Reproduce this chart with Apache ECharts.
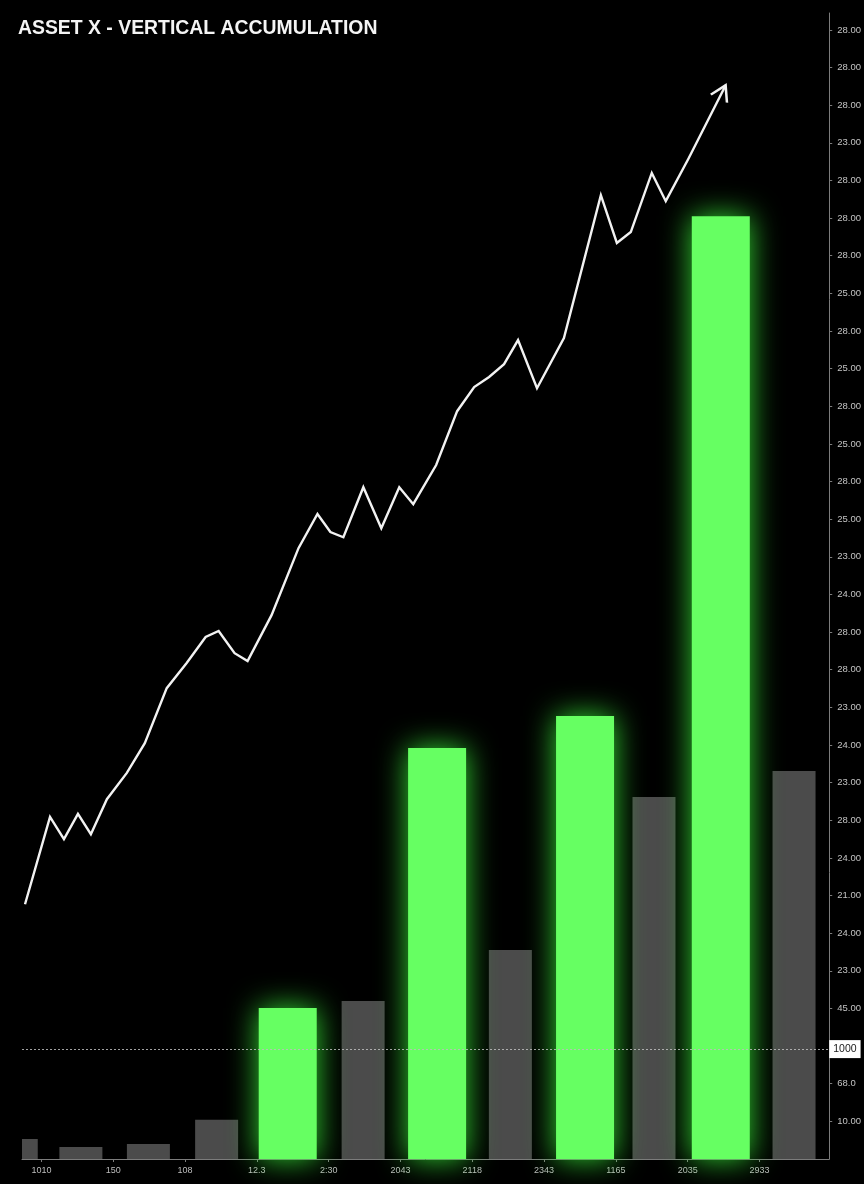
<!DOCTYPE html>
<html>
<head>
<meta charset="utf-8">
<script src="https://cdn.jsdelivr.net/npm/echarts@6/dist/echarts.min.js"></script>
<style>
html,body{margin:0;padding:0;background:#000;overflow:hidden;}
#chart{width:864px;height:1184px;}
</style>
</head>
<body>
<div id="chart"></div>
<script>
// ---- data ----
const titleText = 'ASSET X - VERTICAL ACCUMULATION';

// x tick labels at slot boundaries 1..11
const xTickValues = [1, 2, 3, 4, 5, 6, 7, 8, 9, 10, 11];
const xTickLabels = ['1010', '150', '108', '12.3', '2:30', '2043', '2118', '2343', '1165', '2035', '2933'];

// right axis tick labels, value 1 (bottom) .. 30 (top); value 3 is the marked level
const yTickValues = [1,2,3,4,5,6,7,8,9,10,11,12,13,14,15,16,17,18,19,20,21,22,23,24,25,26,27,28,29,30];
const yTickLabels = ['10.00', '68.0', '', '45.00', '23.00', '24.00', '21.00', '24.00', '28.00', '23.00',
                     '24.00', '23.00', '28.00', '28.00', '24.00', '23.00', '25.00', '28.00', '25.00', '28.00',
                     '25.00', '28.00', '25.00', '28.00', '28.00', '28.00', '23.00', '28.00', '28.00', '28.00'];

// gray volume bars
const grayX = [0.65, 1.55, 2.49, 3.44, 5.48, 7.53, 9.53, 11.48];
const grayY = [0.53, 0.32, 0.40, 1.04, 4.20, 5.55, 9.62, 10.31];

// green accumulation bars
const greenX = [4.43, 6.51, 8.57, 10.46];
const greenY = [4.01, 10.92, 11.77, 25.05];

// price line
const lineX = [0.772, 1.120, 1.314, 1.509, 1.689, 1.912, 2.190, 2.440, 2.745, 3.023,
               3.287, 3.468, 3.690, 3.871, 4.205, 4.580, 4.844, 5.024, 5.205, 5.483,
               5.733, 5.983, 6.178, 6.497, 6.789, 7.026, 7.234, 7.442, 7.637, 7.901,
               8.276, 8.790, 9.013, 9.207, 9.499, 9.694, 10.013, 10.528];
const lineY = [6.77, 9.09, 8.50, 9.17, 8.63, 9.56, 10.26, 11.05, 12.51, 13.18,
               13.87, 14.03, 13.44, 13.23, 14.45, 16.23, 17.14, 16.66, 16.52, 17.85,
               16.76, 17.85, 17.40, 18.44, 19.87, 20.51, 20.78, 21.12, 21.76, 20.48,
               21.81, 25.61, 24.34, 24.63, 26.20, 25.45, 26.59, 28.53];

// marked level
const markLevel = 2.92;
const markLabel = '1000';

// ---- chart ----
const chart = echarts.init(document.getElementById('chart'), null, {renderer: 'canvas', width: 864, height: 1184});

const labelFont = "'Liberation Sans', Arial, sans-serif";

const lineData = lineX.map((x, i) => {
  if (i === lineX.length - 1) {
    return {
      value: [x, lineY[i]],
      symbol: 'path://M0,15 L9,0 L18,15',
      symbolSize: [18, 15],
      symbolRotate: -26.6,
      symbolOffset: [-3.4, 6.7],
      itemStyle: {color: 'rgba(0,0,0,0)', borderColor: '#f2f2f2', borderWidth: 2.4}
    };
  }
  return {value: [x, lineY[i]], symbol: 'none'};
});

const GRAY_W = 43;

const option = {
  backgroundColor: '#000',
  animation: false,
  title: {
    text: titleText,
    left: 18,
    top: 19,
    padding: 0,
    textStyle: {color: '#f4f4f4', fontSize: 19.4, fontWeight: 'bold', fontFamily: "'Liberation Sans', Arial, sans-serif"}
  },
  grid: {left: 22, right: 33, top: 13, bottom: 25, containLabel: false},
  xAxis: [
    {
      type: 'value', min: 0.73, max: 11.97,
      axisLine: {show: true, lineStyle: {color: '#7c7c7c', width: 1}},
      axisTick: {show: true, length: 3, customValues: xTickValues, lineStyle: {color: '#7c7c7c'}},
      axisLabel: {
        show: true, customValues: xTickValues, margin: 7,
        color: '#bdbdbd', fontSize: 9, fontFamily: labelFont,
        formatter: v => { const r = Math.round(v); const i = xTickValues.indexOf(r); return (i >= 0 && Math.abs(v - r) < 1e-6) ? xTickLabels[i] : ''; }
      },
      splitLine: {show: false}
    },
    {
      type: 'value', min: 0.73, max: 11.97, show: false
    }
  ],
  yAxis: {
    type: 'value', position: 'right', min: 0, max: 30.45, interval: 1,
    axisLine: {show: true, lineStyle: {color: '#7c7c7c', width: 1}},
    axisTick: {show: true, length: 3, customValues: yTickValues, lineStyle: {color: '#7c7c7c'}},
    axisLabel: {
      show: true, customValues: yTickValues, margin: 8,
      color: '#c4c4c4', fontSize: 9.5, fontFamily: labelFont,
      formatter: v => { const r = Math.round(v); if (Math.abs(v - r) > 1e-6 || r < 1 || r > 30) return ''; return yTickLabels[r - 1]; }
    },
    splitLine: {show: false}
  },
  series: [
    {
      type: 'custom', name: 'volume', xAxisIndex: 0, yAxisIndex: 0,
      clip: true,
      encode: {x: 0, y: 1},
      data: grayX.map((x, i) => [x, grayY[i]]),
      renderItem: (params, api) => {
        const top = api.coord([api.value(0), api.value(1)]);
        const base = api.coord([api.value(0), 0]);
        return {
          type: 'rect',
          shape: {x: top[0] - GRAY_W / 2, y: top[1], width: GRAY_W, height: base[1] - top[1]},
          style: {fill: '#4b4b4b'}
        };
      },
      z: 2,
      markLine: {
        silent: true, symbol: ['none', 'none'],
        lineStyle: {color: 'rgba(190,190,190,0.85)', type: [2, 2], width: 1},
        label: {
          show: true, position: 'end', distance: 0, formatter: markLabel,
          backgroundColor: '#ffffff', color: '#1a1a1a', fontSize: 10.5, fontFamily: labelFont,
          padding: [4, 4, 3, 4], opacity: 1
        },
        data: [{yAxis: markLevel}],
        z: 5
      }
    },
    {
      type: 'bar', name: 'accumulation', xAxisIndex: 1, yAxisIndex: 0,
      barWidth: 58,
      itemStyle: {color: '#66ff62', shadowBlur: 30, shadowColor: 'rgba(60,255,60,0.85)'},
      data: greenX.map((x, i) => [x, greenY[i]]),
      z: 3
    },
    {
      type: 'line', name: 'price', xAxisIndex: 0, yAxisIndex: 0,
      data: lineData,
      showSymbol: true,
      lineStyle: {color: '#f2f2f2', width: 2.4, join: 'miter'},
      itemStyle: {color: '#f2f2f2'},
      z: 4
    }
  ]
};
chart.setOption(option);
</script>
</body>
</html>
